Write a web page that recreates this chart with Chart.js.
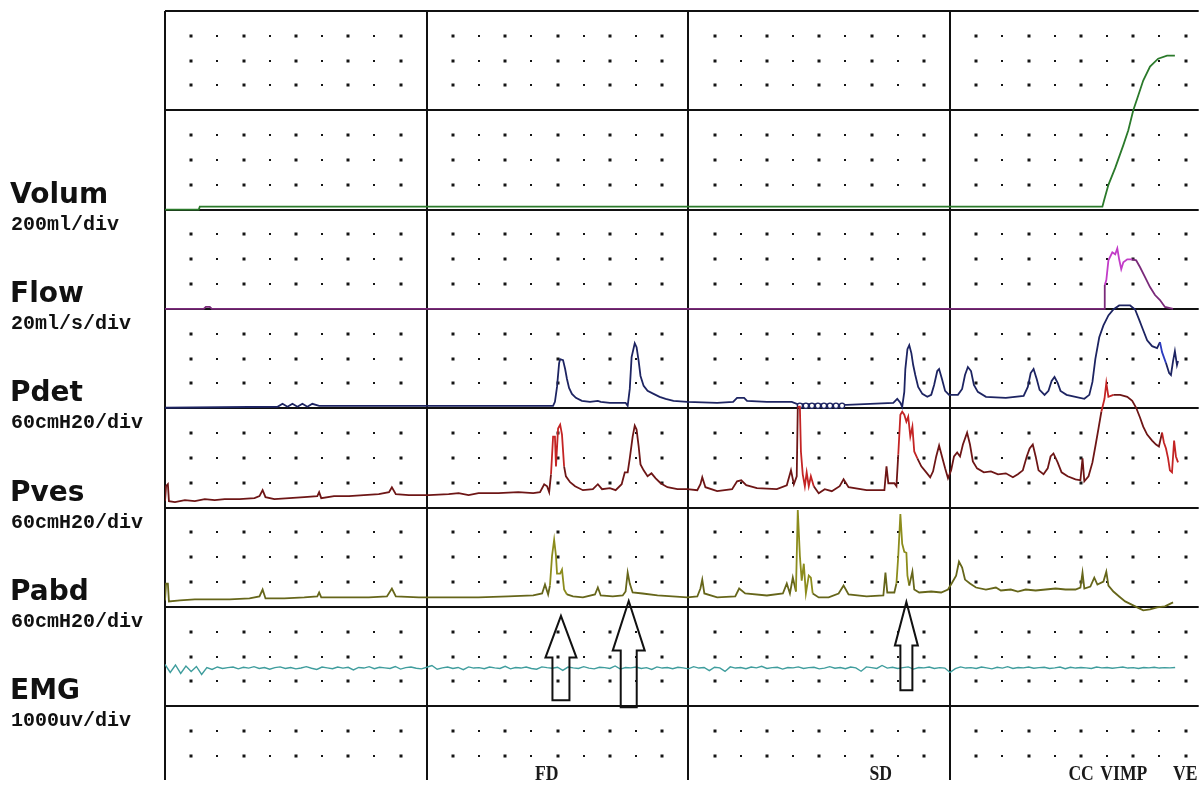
<!DOCTYPE html>
<html>
<head>
<meta charset="utf-8">
<script src="https://cdn.jsdelivr.net/npm/chart.js@4.4.1/dist/chart.umd.min.js"></script>
<style>
  html, body { margin: 0; padding: 0; background: #fff; overflow: hidden; }
  canvas { display: block; }
</style>
</head>
<body>
<canvas id="uroChart" width="1204" height="785"></canvas>
<script>
// time in seconds (10 s per small division, 100 s per big one)
const volT = [0, 12.9, 13.3, 358.2, 358.9, 360.5, 363.1, 366.2, 368.1, 370.0, 371.9, 373.8, 376.4, 379.5, 382.9, 385.9];
const volV = [0, 0, 6, 6, 20, 50, 84, 130, 160, 200, 230, 260, 288, 304, 310, 310]; // ml

const flowT = [0, 14.8, 15.6, 17.1, 17.9, 358.9, 359.1, 359.7, 360.5, 362.0, 363.1, 363.9, 364.6, 365.4, 366.2,
  367.7, 369.6, 371.1, 372.6, 374.5, 376.4, 378.3, 380.2, 382.1, 385.2];
const flowV = [0, 0, 0.4, 0.4, 0, 0, 4.8, 5.8, 9.8, 11.4, 11.0, 12.2, 10.0, 8.0, 9.4,
  10.0, 10.0, 9.8, 8.4, 6.4, 4.4, 2.8, 1.8, 0.4, 0]; // ml/s

const pdetT = [0, 43.0, 44.9, 46.8, 48.7, 50.6, 52.5, 54.4, 56.3, 58.9, 148.3, 149.0, 149.8, 150.6, 151.0,
  152.1, 152.9, 153.6, 154.4, 155.5, 157.0, 159.3, 162.4, 165.4, 166.5, 170.0, 176.0, 176.8, 177.6, 178.3,
  179.5, 180.2, 181.0, 181.7, 182.9, 184.4, 186.7, 189.0, 191.3, 194.3, 199.6, 211.0, 217.1, 218.6, 221.3,
  222.4, 230.0, 239.5, 241.4, 260.5, 278.3, 279.8, 281.0, 281.7, 282.5, 282.9, 283.7, 284.4, 285.2, 285.9,
  286.7, 287.8, 289.4, 291.3, 292.8, 293.9, 295.1, 295.8, 296.9, 298.1, 299.6, 303.0, 304.6, 305.7, 306.8,
  308.0, 309.1, 310.6, 313.7, 321.3, 328.1, 329.7, 330.8, 331.9, 333.1, 334.2, 336.1, 337.6, 338.8, 339.9,
  341.1, 342.2, 344.5, 347.9, 351.3, 353.2, 354.4, 355.5, 357.0, 358.6, 360.5, 362.4, 364.6, 368.8, 370.7,
  372.2, 373.8, 375.3, 377.2, 379.1, 380.2, 381.0, 382.5, 383.7, 384.4, 385.2, 385.9, 386.7, 387.1];
const pdetV = [0.3, 0.9, 2.7, 0.9, 2.7, 0.9, 2.7, 0.9, 2.7, 1.5, 1.5, 3.9, 12.9, 27.3, 29.7,
  29.1, 23.7, 17.7, 12.3, 8.7, 6.3, 4.5, 3.9, 4.5, 3.9, 3.3, 3.3, 1.5, 11.7, 30.9,
  39.3, 36.9, 28.5, 19.5, 13.5, 10.5, 8.7, 6.9, 5.7, 4.5, 3.9, 3.3, 3.9, 6.3, 6.3,
  4.5, 3.9, 3.9, 2.7, 2.1, 3.3, 5.7, 3.3, 0.9, 9.9, 23.7, 35.7, 38.1, 33.3, 26.1,
  20.1, 12.9, 8.7, 6.9, 8.1, 14.1, 22.5, 23.7, 17.7, 10.5, 8.1, 8.1, 11.7, 20.1, 24.9,
  22.5, 14.1, 9.9, 6.9, 6.3, 7.5, 12.9, 21.3, 23.7, 17.7, 11.1, 8.1, 10.5, 16.5, 18.9,
  15.3, 10.5, 8.1, 6.9, 5.7, 8.1, 15.9, 29.7, 42.9, 50.1, 56.1, 59.7, 62.1, 62.1, 59.7,
  53.7, 47.1, 41.1, 37.5, 36.3, 39.9, 33.9, 27.3, 21.3, 20.1, 28.5, 34.5, 26.1, 28.5]; // cmH2O
// ring marks the recorder drew on the Pdet trace
const pdetRingT = [242.6, 244.9, 247.2, 249.5, 251.8, 254.1, 256.4, 258.7];
const pdetRingV = [1.5, 1.5, 1.5, 1.5, 1.5, 1.5, 1.5, 1.5];

const pvesT = [0, 0.4, 1.1, 1.5, 3.8, 7.6, 11.4, 15.2, 19.0, 22.8, 28.5, 34.2, 36.1, 37.3, 38.4,
  41.8, 47.5, 53.2, 58.2, 58.9, 59.7, 64.6, 70.3, 76.0, 81.7, 85.6, 86.7, 88.2, 93.2, 100.8,
  108.4, 112.2, 116.0, 119.8, 127.4, 135.0, 140.7, 143.3, 144.9, 146.0, 146.8, 147.5, 148.3, 149.0, 149.4,
  150.2, 151.0, 151.7, 152.5, 153.2, 154.8, 156.7, 159.7, 163.5, 165.4, 167.0, 170.0, 172.2, 174.5, 175.7,
  176.8, 177.6, 178.7, 179.5, 180.2, 181.0, 181.7, 182.9, 184.4, 185.9, 187.5, 189.4, 192.0, 195.8, 199.6,
  203.4, 204.6, 205.3, 206.5, 211.0, 216.7, 218.6, 220.2, 222.1, 226.2, 233.8, 237.6, 239.2, 240.3, 241.4,
  241.8, 242.6, 243.0, 243.7, 244.5, 245.2, 246.0, 246.8, 247.9, 249.8, 252.1, 254.8, 257.8, 259.3, 261.2,
  268.1, 274.9, 275.7, 276.4, 278.7, 279.5, 280.2, 281.0, 281.7, 282.5, 283.3, 284.0, 284.8, 285.6, 286.3,
  287.5, 289.0, 290.9, 292.4, 293.5, 294.7, 295.8, 296.9, 298.1, 299.2, 300.4, 301.5, 302.7, 303.8, 304.9,
  306.5, 307.6, 308.7, 310.3, 312.9, 315.6, 318.3, 321.3, 324.0, 325.9, 327.8, 329.3, 330.4, 331.6, 332.7,
  333.8, 335.7, 337.3, 338.4, 339.5, 341.1, 342.6, 344.9, 347.9, 349.8, 350.6, 351.3, 352.9, 354.4, 355.5,
  356.7, 357.8, 359.0, 359.7, 360.5, 362.4, 365.0, 367.7, 369.6, 371.1, 372.6, 373.8, 375.3, 377.2, 378.7,
  379.8, 381.0, 381.7, 382.5, 383.3, 384.0, 384.8, 385.6, 386.3, 387.1];
const pvesV = [3.9, 12.9, 14.1, 3.9, 3.3, 4.5, 3.9, 5.1, 4.5, 5.1, 5.1, 5.7, 6.9, 10.5, 6.3,
  5.1, 5.7, 6.3, 6.9, 9.3, 5.7, 6.9, 6.9, 7.5, 8.1, 9.3, 12.3, 8.1, 7.5, 7.5,
  8.1, 8.7, 7.5, 8.7, 8.7, 9.3, 8.7, 9.3, 14.1, 12.9, 9.3, 20.1, 42.9, 42.9, 24.9,
  47.7, 50.1, 44.1, 24.9, 18.9, 15.3, 12.9, 10.5, 11.1, 14.1, 11.1, 11.7, 10.5, 14.1, 21.3,
  21.3, 29.7, 42.9, 49.5, 47.1, 36.9, 26.1, 22.5, 18.9, 20.7, 17.7, 14.7, 12.3, 11.1, 11.1,
  10.5, 14.1, 18.3, 12.3, 9.9, 11.1, 15.9, 16.5, 13.5, 11.7, 11.1, 13.5, 22.5, 14.1, 18.9,
  60.9, 60.9, 33.9, 20.1, 12.9, 21.3, 12.9, 18.9, 12.9, 8.7, 11.1, 9.9, 12.9, 17.1, 12.3,
  10.5, 10.5, 24.9, 14.7, 14.7, 12.9, 32.1, 56.1, 57.9, 56.1, 51.9, 54.9, 42.9, 48.9, 33.9,
  29.7, 24.9, 21.3, 18.3, 21.9, 30.9, 37.5, 30.9, 23.7, 17.7, 22.5, 30.9, 33.3, 30.9, 38.1,
  45.3, 38.1, 27.9, 23.7, 21.3, 21.9, 20.1, 20.7, 18.3, 20.1, 22.5, 30.9, 35.7, 38.1, 30.9,
  22.5, 20.1, 23.7, 30.9, 32.7, 27.3, 21.3, 18.9, 17.1, 16.5, 29.7, 15.9, 18.9, 27.3, 36.9,
  47.7, 57.9, 65.7, 75.3, 66.9, 68.1, 68.1, 66.9, 64.5, 60.3, 54.3, 48.9, 44.1, 40.5, 38.1,
  36.9, 45.3, 39.3, 35.7, 29.7, 22.5, 21.3, 40.5, 30.9, 27.3]; // cmH2O

const pabdT = [0, 0.4, 1.1, 1.5, 5.7, 11.4, 17.1, 24.7, 32.3, 36.1, 37.3, 38.4, 45.6, 53.2, 58.2,
  58.9, 59.7, 68.4, 77.9, 84.8, 86.7, 88.2, 97.0, 108.4, 119.8, 131.2, 140.7, 144.1, 145.2, 146.4,
  147.1, 147.9, 148.7, 149.4, 149.8, 151.0, 151.7, 152.5, 153.6, 155.9, 159.7, 164.3, 165.4, 166.5, 171.1,
  174.9, 176.0, 176.8, 177.6, 178.7, 182.5, 188.2, 193.9, 199.6, 203.4, 204.6, 205.3, 206.1, 211.0, 217.9,
  219.4, 221.7, 230.0, 236.1, 237.6, 238.8, 239.9, 241.1, 241.8, 242.6, 243.3, 244.1, 244.9, 246.0, 246.8,
  247.5, 249.8, 253.6, 257.4, 259.3, 261.2, 268.1, 274.5, 275.3, 276.0, 278.7, 279.5, 280.2, 281.0, 281.7,
  282.5, 283.3, 283.7, 284.4, 285.6, 286.3, 288.2, 292.8, 296.6, 299.2, 300.8, 302.3, 303.4, 304.6, 305.7,
  307.6, 309.9, 313.7, 317.5, 319.4, 323.2, 325.9, 328.9, 332.7, 336.5, 340.3, 344.1, 347.9, 349.8, 350.6,
  351.3, 353.6, 355.1, 356.3, 358.6, 359.7, 360.5, 362.4, 364.6, 366.9, 369.2, 371.5, 373.8, 376.4, 379.1,
  382.1, 385.2];
const pabdV = [3.9, 14.1, 14.1, 3.3, 3.9, 4.5, 4.5, 4.5, 5.1, 6.3, 10.5, 5.1, 5.1, 5.7, 6.3,
  8.7, 5.7, 5.7, 5.7, 6.3, 11.1, 6.3, 5.7, 5.7, 5.7, 6.3, 6.9, 8.1, 13.5, 7.5,
  12.9, 30.9, 40.5, 30.9, 20.1, 20.1, 22.5, 10.5, 7.5, 6.3, 5.7, 7.5, 11.7, 6.9, 6.3,
  6.9, 9.3, 20.7, 14.1, 8.7, 8.1, 6.9, 6.3, 5.7, 6.3, 11.1, 16.5, 8.1, 5.7, 6.3,
  11.1, 8.1, 6.9, 8.1, 14.1, 8.1, 17.7, 9.3, 58.5, 30.9, 15.9, 26.1, 8.1, 18.9, 17.7,
  8.1, 5.7, 5.7, 8.1, 12.9, 7.5, 6.3, 6.9, 20.7, 8.7, 8.7, 14.1, 30.9, 56.1, 38.1,
  33.3, 32.7, 18.9, 12.9, 21.3, 10.5, 8.7, 9.3, 8.7, 10.5, 14.7, 18.9, 27.3, 23.7, 16.5,
  14.1, 11.7, 10.5, 11.7, 9.9, 10.5, 9.3, 10.5, 9.9, 10.5, 11.1, 10.5, 10.5, 11.7, 20.7,
  11.1, 12.3, 17.7, 13.5, 15.3, 21.3, 12.9, 9.3, 6.3, 3.3, 1.5, -0.3, -2.1, -1.5, -0.3,
  0.3, 2.7]; // cmH2O

// EMG sampled every 2 s from t = 0
const emgStep = 2;
const emgV = [420, 340, 415, 330, 405, 350, 400, 320, 390, 370,
  395, 380, 388, 395, 376, 392, 384, 398, 380, 390,
  372, 388, 396, 380, 390, 376, 385, 398, 382, 370,
  394, 386, 378, 395, 384, 392, 365, 390, 384, 398,
  378, 392, 386, 380, 400, 374, 388, 395, 382, 376,
  392, 410, 372, 386, 394, 380, 390, 368, 396, 384,
  388, 378, 395, 386, 380, 402, 376, 390, 384, 395,
  380, 372, 396, 388, 382, 392, 360, 394, 386, 380,
  398, 384, 376, 392, 388, 380, 405, 374, 390, 386,
  394, 380, 388, 370, 396, 384, 390, 378, 392, 386,
  376, 398, 384, 390, 358, 392, 386, 350, 396, 384,
  390, 378, 394, 386, 402, 380, 388, 392, 374, 390,
  386, 396, 380, 388, 392, 376, 384, 398, 382, 390,
  378, 394, 386, 352, 396, 388, 380, 410, 384, 392,
  380, 388, 396, 374, 390, 386, 394, 380, 388, 384,
  340, 378, 396, 384, 388, 380, 394, 386, 376, 392,
  384, 398, 380, 390, 386, 394, 382, 388, 392, 380,
  386, 394, 378, 392, 384, 390, 386, 380, 394, 386,
  390, 382, 388, 394, 384, 388, 380, 390, 386, 392,
  384, 388, 386, 390]; // uV

const channelNames = ['Volum', 'Flow', 'Pdet', 'Pves', 'Pabd', 'EMG'];
const channelUnits = ['200ml/div', '20ml/s/div', '60cmH20/div', '60cmH20/div', '60cmH20/div', '1000uv/div'];
const channelPerDiv = [200, 20, 60, 60, 60, 1000];

const eventNames = ['FD', 'SD', 'CC', 'VIMP', 'VE'];
const eventTimes = [141.4, 269.2, 345.2, 357.4, 385.2];
const arrowTimes = [151.3, 177.2, 283.3];

// layout / style
const ROWS_VISIBLE = 7.74;   // 100 px per big row, chart area 774 px tall
const X_MAX = 395;
const MAJOR_X = [0, 100, 200, 300];
const MAJOR_ROWS = [0, 1, 2, 3, 4, 5, 6, 7];
const CHANNEL_ROW = [2, 3, 4, 5, 6, 7];   // row line carrying each channel's zero
const AXIS_IDS = ['yVol', 'yFlow', 'yPdet', 'yPves', 'yPabd', 'yEmg'];
const ARROW_SHAPES = [
  { tip: 6.09, base: 6.51, bottom: 6.94, head: 15.5, shaft: 8.5 },
  { tip: 5.94, base: 6.44, bottom: 7.01, head: 16, shaft: 8 },
  { tip: 5.95, base: 6.39, bottom: 6.84, head: 11.5, shaft: 6 },
];

const pts = (ts, vs) => ts.map((t, i) => ({ x: t, y: vs[i] }));
const inRanges = (x, ranges) => ranges.some(([a, b]) => x >= a && x < b);

const accent = (base, hi, ranges) => ({
  borderColor: ctx => inRanges(ctx.p0.parsed.x, ranges) ? hi : base,
});

const channelAxes = {};
AXIS_IDS.forEach((id, i) => {
  const r = CHANNEL_ROW[i], per = channelPerDiv[i];
  channelAxes[id] = { type: 'linear', display: false, min: -(ROWS_VISIBLE - r) * per, max: r * per };
});

const gridPlugin = {
  id: 'uroGrid',
  beforeDraw(chart) {
    const { ctx, width, height } = chart;
    ctx.save();
    ctx.fillStyle = '#fff';
    ctx.fillRect(0, 0, width, height);
    ctx.restore();
  },
  beforeDatasetsDraw(chart) {
    const { ctx } = chart;
    const xs = chart.scales.x, rs = chart.scales.rows;
    ctx.save();
    ctx.fillStyle = '#151515';
    for (let i = 1; i * 10 < X_MAX; i++) {
      if (i % 10 === 0) continue;
      const px = Math.round(xs.getPixelForValue(i * 10));
      const big = i % 2 === 1;
      for (let j = 1; j * 0.25 < ROWS_VISIBLE; j++) {
        if (j % 4 === 0) continue;
        const py = Math.round(rs.getPixelForValue(j * 0.25));
        if (big) ctx.fillRect(px - 1.5, py - 1.5, 3, 3);
        else ctx.fillRect(px - 1, py - 1, 2, 2);
      }
    }
    ctx.restore();
  },
  afterDatasetsDraw(chart) {
    const { ctx } = chart;
    const xs = chart.scales.x, rs = chart.scales.rows;
    ctx.save();
    // hollow arrows
    ctx.strokeStyle = '#111';
    ctx.lineWidth = 2;
    arrowTimes.forEach((t, i) => {
      const s = ARROW_SHAPES[i];
      const cx = xs.getPixelForValue(t);
      const tip = rs.getPixelForValue(s.tip), base = rs.getPixelForValue(s.base), bot = rs.getPixelForValue(s.bottom);
      ctx.beginPath();
      ctx.moveTo(cx, tip);
      ctx.lineTo(cx + s.head, base);
      ctx.lineTo(cx + s.shaft, base);
      ctx.lineTo(cx + s.shaft, bot);
      ctx.lineTo(cx - s.shaft, bot);
      ctx.lineTo(cx - s.shaft, base);
      ctx.lineTo(cx - s.head, base);
      ctx.closePath();
      ctx.stroke();
    });
    // event marks along the bottom, narrow like the recorder's font
    ctx.fillStyle = '#1a1a1a';
    ctx.font = 'bold 21px "Liberation Serif"';
    ctx.textAlign = 'left';
    ctx.textBaseline = 'alphabetic';
    const yb = rs.getPixelForValue(ROWS_VISIBLE);
    eventNames.forEach((name, i) => {
      ctx.save();
      ctx.translate(xs.getPixelForValue(eventTimes[i]), yb);
      ctx.scale(0.84, 1);
      ctx.fillText(name, 0, 0);
      ctx.restore();
    });
    ctx.restore();
  },
  afterDraw(chart) {
    const { ctx } = chart;
    const rs = chart.scales.rows;
    ctx.save();
    ctx.fillStyle = '#111';
    ctx.textAlign = 'left';
    ctx.textBaseline = 'alphabetic';
    channelNames.forEach((name, i) => {
      const py = rs.getPixelForValue(CHANNEL_ROW[i]);
      ctx.font = 'bold 28px "DejaVu Sans"';
      ctx.fillText(name, 10, py - 7);
      ctx.font = 'bold 20px "Liberation Mono"';
      ctx.fillText(channelUnits[i], 11, py + 20);
    });
    ctx.restore();
  },
};

const line = (label, data, axis, color, extra = {}) => Object.assign({
  label, data, yAxisID: axis, borderColor: color, borderWidth: 1.8,
  pointRadius: 0, tension: 0, fill: false,
}, extra);

new Chart(document.getElementById('uroChart'), {
  type: 'line',
  data: {
    datasets: [
      line('EMG', emgV.map((v, i) => ({ x: i * emgStep, y: v })), 'yEmg', '#3f9d9d', { borderWidth: 1.4 }),
      line('Pabd', pts(pabdT, pabdV), 'yPabd', '#66661a',
        { segment: accent('#66661a', '#8c8c1c', [[147, 153], [241, 247.5], [279.5, 284]]) }),
      line('Pves', pts(pvesT, pvesV), 'yPves', '#6e1616',
        { segment: accent('#6e1616', '#c42424', [[147, 152.5], [241.5, 247.5], [280, 287], [357, 361], [380.5, 387.5]]) }),
      line('Pdet rings', pts(pdetRingT, pdetRingV), 'yPdet', '#1d2462', {
        showLine: false, pointRadius: 2.6, pointBorderWidth: 1.3,
        pointBackgroundColor: '#fff', pointBorderColor: '#1d2462',
      }),
      line('Pdet', pts(pdetT, pdetV), 'yPdet', '#1d2462',
        { segment: accent('#1d2462', '#2c3cc0', [[379.5, 381.5]]) }),
      line('Flow', pts(flowT, flowV), 'yFlow', '#7a2a7a',
        { segment: accent('#7a2a7a', '#c23cc8', [[359, 368]]) }),
      line('Volum', pts(volT, volV), 'yVol', '#2b7a2b'),
    ],
  },
  options: {
    responsive: false,
    animation: false,
    events: [],
    layout: { padding: { left: 165, top: 11, right: 0, bottom: 0 } },
    plugins: { legend: { display: false }, tooltip: { enabled: false } },
    scales: {
      x: {
        type: 'linear', min: 0, max: X_MAX,
        afterBuildTicks: axis => { axis.ticks = MAJOR_X.map(value => ({ value })); },
        ticks: { display: false },
        grid: { color: '#111', lineWidth: 2, drawTicks: false },
        border: { display: false },
      },
      rows: {
        type: 'linear', position: 'left', reverse: true, min: 0, max: ROWS_VISIBLE,
        afterBuildTicks: axis => { axis.ticks = MAJOR_ROWS.map(value => ({ value })); },
        ticks: { display: false },
        grid: { color: '#111', lineWidth: 2, drawTicks: false },
        border: { display: false },
      },
      ...channelAxes,
    },
  },
  plugins: [gridPlugin],
});
</script>
</body>
</html>
